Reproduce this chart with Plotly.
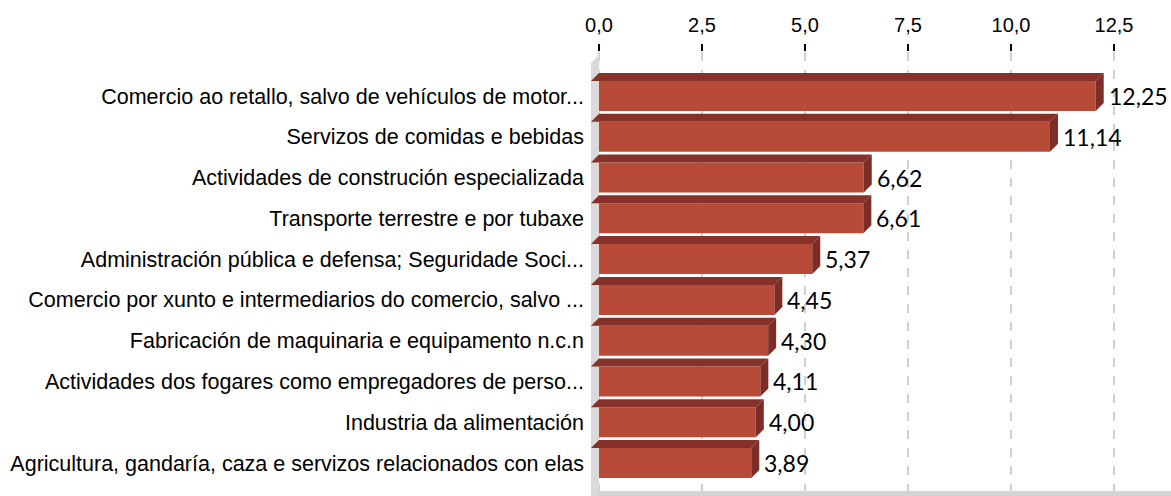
import plotly.graph_objects as go

# Top activities, share of total (%)
categories = [
    "Comercio ao retallo, salvo de vehículos de motor...",
    "Servizos de comidas e bebidas",
    "Actividades de construción especializada",
    "Transporte terrestre e por tubaxe",
    "Administración pública e defensa; Seguridade Soci...",
    "Comercio por xunto e intermediarios do comercio, salvo ...",
    "Fabricación de maquinaria e equipamento n.c.n",
    "Actividades dos fogares como empregadores de perso...",
    "Industria da alimentación",
    "Agricultura, gandaría, caza e servizos relacionados con elas",
]
values = [12.25, 11.14, 6.62, 6.61, 5.37, 4.45, 4.30, 4.11, 4.00, 3.89]
x_ticks = [0, 2.5, 5, 7.5, 10, 12.5]

W, H = 1171, 496
M_L, M_T = 591, 52
PX_X = 41.2          # pixels per x unit
PX_Y = 40.78         # pixels per category step
DX = 8 / PX_X        # 3D depth, x units
DY = 8 / PX_Y        # 3D depth, y units
HALF = 15 / PX_Y     # half height of the bar front face

x_min = -DX
x_max = (W - M_L) / PX_X - DX
y_top = -(96 - M_T) / PX_Y
y_bot = y_top + (H - M_T) / PX_Y

FRONT = "#b84b38"
TOP = "#86322a"
SIDE = "#7e2d26"

pos = list(range(len(categories)))

fig = go.Figure()

# back wall and floor
wall_top = y_top + 3 / PX_Y
floor_y = y_top + (491 - M_T) / PX_Y
fig.add_trace(go.Scatter(
    x=[x_min, 0, 0, x_min, x_min],
    y=[wall_top + DY, wall_top, floor_y, floor_y + DY, wall_top + DY],
    fill="toself", fillcolor="#dadada", line=dict(width=0), mode="lines",
    hoverinfo="skip", showlegend=False))
fig.add_trace(go.Scatter(
    x=[0, x_max + DX, x_max, x_min, 0],
    y=[floor_y, floor_y, floor_y + DY, floor_y + DY, floor_y],
    fill="toself", fillcolor="#d4d4d4", line=dict(width=0), mode="lines",
    hoverinfo="skip", showlegend=False))

# front faces
fig.add_trace(go.Bar(
    x=values, y=pos, base=[-DX] * len(values), orientation="h",
    width=2 * HALF, marker=dict(color=FRONT, line=dict(width=0)),
    hoverinfo="skip", showlegend=False))

# top and side faces
tx, ty, sx, sy = [], [], [], []
for v, p in zip(values, pos):
    t = p - HALF
    b = p + HALF
    tx += [-DX, v - DX, v, 0, -DX, None]
    ty += [t, t, t - DY, t - DY, t, None]
    sx += [v - DX, v, v, v - DX, v - DX, None]
    sy += [t, t - DY, b - DY, b, t, None]
fig.add_trace(go.Scatter(x=tx, y=ty, fill="toself", fillcolor=TOP,
                         line=dict(width=0), mode="lines",
                         hoverinfo="skip", showlegend=False))
fig.add_trace(go.Scatter(x=sx, y=sy, fill="toself", fillcolor=SIDE,
                         line=dict(width=0), mode="lines",
                         hoverinfo="skip", showlegend=False))

# value labels
for v, p in zip(values, pos):
    fig.add_annotation(
        x=v, y=p, xref="x", yref="y", text=f"{v:.2f}".replace(".", ","),
        showarrow=False, xanchor="left", yanchor="middle", xshift=3,
        font=dict(family="Lato", size=23, color="#000000"))

fig.update_layout(
    width=W, height=H,
    margin=dict(l=M_L, r=0, t=M_T, b=0, pad=0),
    paper_bgcolor="white", plot_bgcolor="white",
    separators=",.",
    showlegend=False,
    hovermode=False,
    xaxis=dict(
        side="top", range=[x_min, x_max], tickvals=x_ticks, tickformat=".1f",
        showgrid=True, gridcolor="#d0d0d0", gridwidth=1.5, griddash="dash",
        zeroline=False, showline=False,
        ticks="outside", ticklen=7, tickwidth=2, tickcolor="#000000",
        ticklabelstandoff=4,
        tickfont=dict(family="Liberation Sans", size=20, color="#000000"),
        fixedrange=True),
    yaxis=dict(
        range=[y_bot, y_top], tickvals=pos, ticktext=categories,
        showgrid=False, zeroline=False, showline=False, ticks="",
        ticklabelstandoff=6,
        tickfont=dict(family="Liberation Sans", size=21.5, color="#000000"),
        fixedrange=True),
)

fig.write_html("out.html")
